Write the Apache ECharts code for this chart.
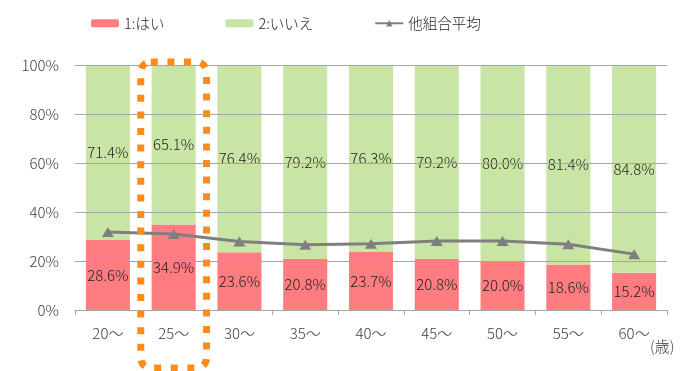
<!DOCTYPE html>
<html>
<head>
<meta charset="utf-8">
<script src="https://cdn.jsdelivr.net/npm/echarts@6/dist/echarts.min.js"></script>
<style>
  html, body { margin: 0; padding: 0; background: #fff; }
  #chart { width: 680px; height: 371px; }
</style>
</head>
<body>
<div id="chart"></div>
<script>
// Age groups and answer shares (%)
const categories = ['20〜', '25〜', '30〜', '35〜', '40〜', '45〜', '50〜', '55〜', '60〜'];
const yesValues = [28.6, 34.9, 23.6, 20.8, 23.7, 20.8, 20.0, 18.6, 15.2];
const noValues = [71.4, 65.1, 76.4, 79.2, 76.3, 79.2, 80.0, 81.4, 84.8];
const otherUnionAvg = [31.8, 31.0, 28.0, 26.6, 27.0, 28.2, 28.2, 26.8, 22.8];
const yTicks = [0, 20, 40, 60, 80, 100];
const seriesNames = ['1:はい', '2:いいえ', '他組合平均'];
const highlightCategory = '25〜';
const unitLabel = '(歳)';

const FONT = '"Noto Sans CJK JP", "Noto Sans", sans-serif';
const chart = echarts.init(document.getElementById('chart'), null, { renderer: 'canvas' });

const barLabel = {
  show: true,
  position: 'inside',
  fontFamily: FONT,
  fontSize: 15,
  fontWeight: 300,
  color: '#1f1f1f',
  formatter: p => p.value.toFixed(1) + '%'
};

chart.setOption({
  animation: false,
  textStyle: { fontFamily: FONT },
  legend: {
    left: 86,
    top: 11,
    itemWidth: 28,
    itemHeight: 8,
    itemGap: 61,
    textStyle: { fontFamily: FONT, fontSize: 14.5, fontWeight: 300, color: '#262626' },
    data: seriesNames
  },
  grid: { left: 75, right: 13, top: 65, bottom: 61, containLabel: false },
  xAxis: {
    type: 'category',
    data: categories,
    axisLine: { lineStyle: { color: '#A6A6A6', width: 1 } },
    axisTick: { show: true, length: 5, lineStyle: { color: '#A6A6A6' } },
    axisLabel: { fontFamily: FONT, fontSize: 15, fontWeight: 300, color: '#404040', margin: 16 }
  },
  yAxis: {
    type: 'value',
    min: yTicks[0],
    max: yTicks[yTicks.length - 1],
    interval: yTicks[1] - yTicks[0],
    z: 3,
    axisLine: { show: false },
    axisTick: { show: false },
    splitLine: { lineStyle: { color: '#A6A6A6', width: 1 } },
    axisLabel: { fontFamily: FONT, fontSize: 15, fontWeight: 300, color: '#404040', margin: 16, formatter: '{value}%' }
  },
  series: [
    {
      name: seriesNames[0],
      type: 'bar',
      stack: 'share',
      barCategoryGap: '33%',
      data: yesValues,
      itemStyle: { color: '#FF7C80' },
      label: barLabel
    },
    {
      name: seriesNames[1],
      type: 'bar',
      stack: 'share',
      barCategoryGap: '33%',
      data: noValues,
      itemStyle: { color: '#C9E5A6' },
      label: barLabel
    },
    {
      name: seriesNames[2],
      type: 'line',
      z: 5,
      data: otherUnionAvg,
      symbol: 'triangle',
      symbolSize: [12, 10],
      lineStyle: { color: '#7F7F7F', width: 3 },
      itemStyle: { color: '#7F7F7F' }
    }
  ]
});

// Dotted highlight frame around the chosen age band, plus the unit label
const idx = categories.indexOf(highlightCategory);
const c0 = chart.convertToPixel({ xAxisIndex: 0 }, categories[0]);
const c1 = chart.convertToPixel({ xAxisIndex: 0 }, categories[1]);
const band = c1 - c0;
const cx = chart.convertToPixel({ xAxisIndex: 0 }, categories[idx]);
const yTop = chart.convertToPixel({ yAxisIndex: 0 }, yTicks[yTicks.length - 1]);
const yBottom = chart.convertToPixel({ yAxisIndex: 0 }, yTicks[0]);
const xEnd = chart.convertToPixel({ xAxisIndex: 0 }, categories[categories.length - 1]) + band / 2;

chart.setOption({
  graphic: [
    {
      type: 'rect',
      z: 20,
      shape: { x: cx - band / 2, y: yTop - 3, width: band, height: yBottom - yTop + 61, r: 10 },
      style: { fill: 'none', stroke: '#FF8C1A', lineWidth: 7, lineDash: [7, 9.6] }
    },
    {
      type: 'text',
      z: 20,
      x: xEnd - 17,
      y: yBottom + 29,
      style: { text: unitLabel, fontFamily: FONT, fontSize: 15, fontWeight: 300, fill: '#404040' }
    }
  ]
});
</script>
</body>
</html>
